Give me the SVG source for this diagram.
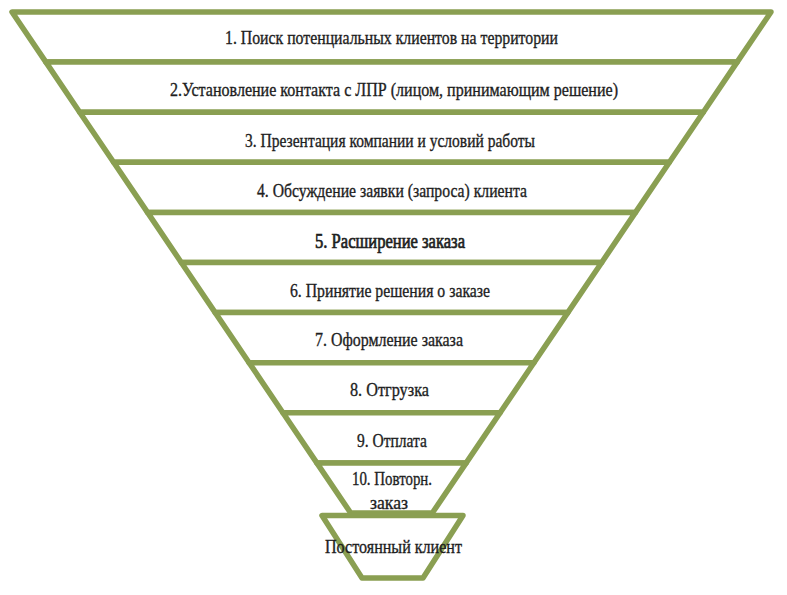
<svg xmlns="http://www.w3.org/2000/svg" width="787" height="595" viewBox="0 0 787 595">
<style>
.band{fill:#ffffff;stroke:#8a9f52;stroke-width:5.5;stroke-linejoin:round}
.t{font-family:"Liberation Serif","DejaVu Serif",serif;font-size:19px;fill:#1e1e1e;stroke:#1e1e1e;stroke-width:0.35}
.b{font-size:20px;stroke-width:0.7}
</style>
<rect width="787" height="595" fill="#ffffff"/>
<g id="band1"><polygon class="band" points="12,12 771,12 737.1,62.1 45.9,62.1"/>
<text class="t" x="225" y="44" textLength="333" lengthAdjust="spacingAndGlyphs">1. Поиск потенциальных клиентов на территории</text></g>
<g id="band2"><polygon class="band" points="45.9,62.1 737.1,62.1 703.3,112.2 79.7,112.2"/>
<text class="t" x="170" y="96" textLength="448" lengthAdjust="spacingAndGlyphs">2.Установление контакта с ЛПР (лицом, принимающим решение)</text></g>
<g id="band3"><polygon class="band" points="79.7,112.2 703.3,112.2 669.4,162.3 113.6,162.3"/>
<text class="t" x="245" y="147" textLength="290" lengthAdjust="spacingAndGlyphs">3. Презентация компании и условий работы</text></g>
<g id="band4"><polygon class="band" points="113.6,162.3 669.4,162.3 635.5,212.4 147.5,212.4"/>
<text class="t" x="257" y="197" textLength="270" lengthAdjust="spacingAndGlyphs">4. Обсуждение заявки (запроса) клиента</text></g>
<g id="band5"><polygon class="band" points="147.5,212.4 635.5,212.4 601.7,262.5 181.3,262.5"/>
<text class="t b" x="315" y="248" textLength="150" lengthAdjust="spacingAndGlyphs">5. Расширение заказа</text></g>
<g id="band6"><polygon class="band" points="181.3,262.5 601.7,262.5 567.8,312.6 215.2,312.6"/>
<text class="t" x="290" y="297" textLength="200" lengthAdjust="spacingAndGlyphs">6. Принятие решения о заказе</text></g>
<g id="band7"><polygon class="band" points="215.2,312.6 567.8,312.6 533.9,362.7 249.1,362.7"/>
<text class="t" x="315" y="346" textLength="148" lengthAdjust="spacingAndGlyphs">7. Оформление заказа</text></g>
<g id="band8"><polygon class="band" points="249.1,362.7 533.9,362.7 500.1,412.8 282.9,412.8"/>
<text class="t" x="350" y="396" textLength="79" lengthAdjust="spacingAndGlyphs">8. Отгрузка</text></g>
<g id="band9"><polygon class="band" points="282.9,412.8 500.1,412.8 466.2,462.9 316.8,462.9"/>
<text class="t" x="357" y="447" textLength="70" lengthAdjust="spacingAndGlyphs">9. Отплата</text></g>
<g id="band10"><polygon class="band" points="316.8,462.9 466.2,462.9 432.3,513 350.7,513"/>
<text class="t" x="352" y="485" textLength="80" lengthAdjust="spacingAndGlyphs">10. Повторн.</text>
<text class="t" x="370" y="509" textLength="38" lengthAdjust="spacingAndGlyphs">заказ</text></g>
<g id="band11"><polygon class="band" points="322,515.5 463,515.5 423,578 362,578"/>
<text class="t" x="325" y="553" textLength="137" lengthAdjust="spacingAndGlyphs">Постоянный клиент</text></g>
<g id="connectors"></g>
</svg>
